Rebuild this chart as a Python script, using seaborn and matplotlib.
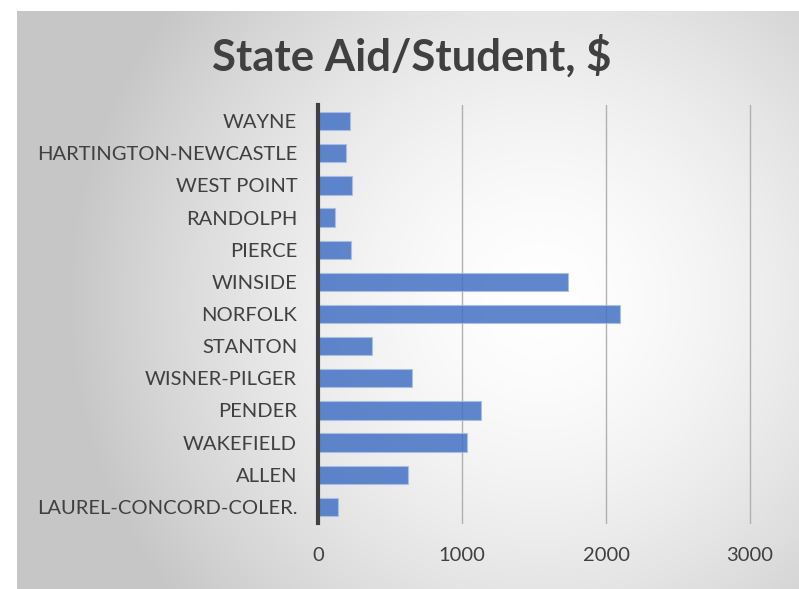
import numpy as np
import pandas as pd
import matplotlib
matplotlib.use("Agg")
import matplotlib.pyplot as plt
import seaborn as sns

districts = ["WAYNE", "HARTINGTON-NEWCASTLE", "WEST POINT", "RANDOLPH", "PIERCE",
             "WINSIDE", "NORFOLK", "STANTON", "WISNER-PILGER", "PENDER",
             "WAKEFIELD", "ALLEN", "LAUREL-CONCORD-COLER."]
aid_per_student = [222, 197, 234, 118, 229, 1738, 2097, 377, 655, 1134, 1032, 623, 141]
x_ticks = [0, 1000, 2000, 3000]
title = "State Aid/Student, $"

sns.set_theme(style="white")
plt.rcParams['font.family'] = ['Lato', 'DejaVu Sans']

W, H = 799, 589
fig = plt.figure(figsize=(W / 100, H / 100), dpi=100)
fig.patch.set_facecolor("white")

# radial gradient background
bx0, by1 = 17, 11
bg = fig.add_axes([bx0 / W, 0, 1 - bx0 / W, 1 - by1 / H], zorder=0)
gw, gh = W - bx0, H - by1
yy, xx = np.mgrid[0:gh, 0:gw]
cx, cy = 540 - bx0, 300 - by1
r = np.sqrt((xx - cx) ** 2 + (yy - cy) ** 2) / 470.0
r = np.clip(r, 0, 1)
val = 1.0 - 0.22 * r ** 1.6
bg.imshow(np.dstack([val, val, val]), aspect="auto", interpolation="bilinear")
bg.set_axis_off()

ax = fig.add_axes([318 / W, 1 - 523 / H, (750 - 318) / W, (523 - 105) / H], zorder=1)
ax.patch.set_alpha(0)
df = pd.DataFrame({"district": districts, "aid": aid_per_student})
sns.barplot(data=df, y="district", x="aid", orient="h", color="#4472C4",
            width=0.57, ax=ax, saturation=1, edgecolor="#a9bfe6", linewidth=0.8)
for p in ax.patches:
    p.set_alpha(0.85)

ax.set_xlim(0, 3000)
ax.set_xticks(x_ticks)
ax.set_xticklabels([str(t) for t in x_ticks])
ax.grid(axis="x", color="#b0b0b0", linewidth=1.0)
ax.grid(axis="y", visible=False)
for gl in ax.get_xgridlines():
    gl.set_clip_on(False)
ax.set_axisbelow(True)
for s in ["top", "right", "bottom"]:
    ax.spines[s].set_visible(False)
ax.spines["left"].set_color("#404040")
ax.spines["left"].set_linewidth(3)
ax.set_xlabel("")
ax.set_ylabel("")
ax.tick_params(axis="y", length=0, pad=15, labelsize=14.5, labelcolor="#404040")
ax.tick_params(axis="x", length=0, pad=17, labelsize=14.5, labelcolor="#404040")

fig.text(412 / W, 1 - 56 / H, title, ha="center", va="center", fontsize=31.5,
         fontweight="bold", color="#404040")

fig.savefig("out.png", dpi=100)
